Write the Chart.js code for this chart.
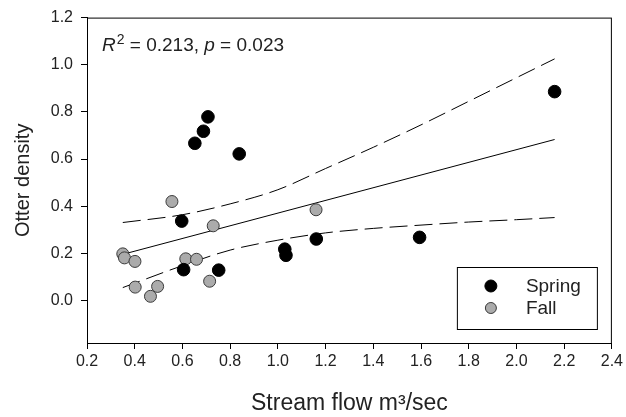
<!DOCTYPE html>
<html>
<head>
<meta charset="utf-8">
<script src="https://cdn.jsdelivr.net/npm/chart.js@4.4.1/dist/chart.umd.min.js"></script>
<style>
    html, body { margin: 0; padding: 0; background: #fff; }
</style>
</head>
<body>
<canvas id="otterChart" width="626" height="417"></canvas>
<script>
var springFlow = [0.597, 0.605, 0.652, 0.688, 0.707, 0.752, 0.838, 1.029, 1.034, 1.161, 1.594, 2.16];
var springDensity = [0.337, 0.131, 0.667, 0.718, 0.779, 0.129, 0.622, 0.218, 0.192, 0.261, 0.268, 0.886];
var fallFlow = [0.35, 0.357, 0.401, 0.402, 0.466, 0.496, 0.556, 0.614, 0.659, 0.714, 0.729, 1.16];
var fallDensity = [0.198, 0.181, 0.166, 0.057, 0.018, 0.06, 0.42, 0.177, 0.175, 0.082, 0.317, 0.385];

// fitted line and 95% confidence band
var fitFlow = [0.35, 2.16];
var fitDensity = [0.196, 0.683];
var bandFlow = [0.35, 0.6, 0.8, 1.0, 1.2, 1.4, 1.6, 1.8, 2.0, 2.16];
var upperBand = [0.331, 0.364, 0.41, 0.47, 0.56, 0.65, 0.745, 0.845, 0.945, 1.025];
var lowerBand = [0.055, 0.148, 0.214, 0.256, 0.287, 0.306, 0.32, 0.333, 0.343, 0.352];

var xTicks = [0.2, 0.4, 0.6, 0.8, 1.0, 1.2, 1.4, 1.6, 1.8, 2.0, 2.2, 2.4];
var yTicks = [0.0, 0.2, 0.4, 0.6, 0.8, 1.0, 1.2];

var fontFamily = "'Liberation Sans', Arial, sans-serif";

function pairs(xs, ys) {
    var out = [];
    for (var i = 0; i < xs.length; i++) out.push({ x: xs[i], y: ys[i] });
    return out;
}

function lineSet(xs, ys, dash) {
    return {
        label: "",
        data: pairs(xs, ys),
        showLine: true,
        pointRadius: 0,
        borderColor: "#000",
        borderWidth: 1,
        borderDash: dash,
        cubicInterpolationMode: "monotone",
        fill: false,
        inLegend: false
    };
}

var extras = {
    id: "extras",
    afterDatasetsDraw: function (chart) {
        var ctx = chart.ctx, a = chart.chartArea;
        ctx.save();

        // frame on top and right
        ctx.strokeStyle = "#000";
        ctx.lineWidth = 1;
        ctx.strokeRect(a.left + 0.5, a.top + 0.5, a.right - a.left - 1, a.bottom - a.top);

        // statistics note
        var x = a.left + 15, y = a.top + 33;
        ctx.fillStyle = "#222";
        ctx.textBaseline = "alphabetic";
        ctx.textAlign = "left";
        var parts = [
            ["italic 19px " + fontFamily, "R", 0],
            ["14px " + fontFamily, "2", -7],
            ["19px " + fontFamily, " = 0.213, ", 0],
            ["italic 19px " + fontFamily, "p", 0],
            ["19px " + fontFamily, " = 0.023", 0]
        ];
        parts.forEach(function (p) {
            ctx.font = p[0];
            ctx.fillText(p[1], x, y + p[2]);
            x += ctx.measureText(p[1]).width + (p[1] === "R" ? 1 : 0);
        });

        // legend box
        var bw = 140, bh = 62;
        var bx = a.right - 15 - bw, by = a.bottom - 14 - bh;
        ctx.fillStyle = "#fff";
        ctx.fillRect(bx, by, bw, bh);
        ctx.strokeRect(bx + 0.5, by + 0.5, bw, bh);
        ctx.font = "19px " + fontFamily;
        ctx.textBaseline = "middle";
        var row = 0;
        chart.data.datasets.forEach(function (ds) {
            if (ds.inLegend === false) return;
            var my = by + 19 + row * 22;
            ctx.beginPath();
            ctx.arc(bx + 34, my, row === 0 ? 6 : 5.5, 0, Math.PI * 2);
            ctx.fillStyle = ds.backgroundColor;
            ctx.fill();
            ctx.strokeStyle = ds.borderColor;
            ctx.stroke();
            ctx.fillStyle = "#222";
            ctx.fillText(ds.label, bx + 69, my + 1);
            row++;
        });
        ctx.restore();
    }
};

new Chart(document.getElementById("otterChart"), {
    type: "scatter",
    data: {
        datasets: [{
            label: "Spring",
            data: pairs(springFlow, springDensity),
            backgroundColor: "#000",
            borderColor: "#000",
            borderWidth: 1,
            pointRadius: 6.3,
            order: 0
        }, {
            label: "Fall",
            data: pairs(fallFlow, fallDensity),
            backgroundColor: "#ababab",
            borderColor: "#3a3a3a",
            borderWidth: 1,
            pointRadius: 6,
            order: 1
        },
            Object.assign(lineSet(fitFlow, fitDensity, []), { order: 2 }),
            Object.assign(lineSet(bandFlow, upperBand, [18, 7]), { order: 3 }),
            Object.assign(lineSet(bandFlow, lowerBand, [18, 7]), { order: 4 })
        ]
    },
    options: {
        responsive: false,
        animation: false,
        devicePixelRatio: 1,
        layout: { padding: { top: 17, right: 11, left: 0, bottom: 0 } },
        plugins: {
            legend: { display: false },
            tooltip: { enabled: false }
        },
        scales: {
            x: {
                type: "linear",
                min: 0.2,
                max: 2.4,
                afterBuildTicks: function (s) { s.ticks = xTicks.map(function (v) { return { value: v }; }); },
                afterFit: function (s) { s.height = 74; },
                grid: { display: true, drawOnChartArea: false, drawTicks: true, tickLength: 6, color: "#000" },
                border: { display: true, color: "#000", width: 1 },
                ticks: {
                    color: "#222",
                    autoSkip: false,
                    maxRotation: 0,
                    padding: 3,
                    font: { family: fontFamily, size: 16 },
                    callback: function (v) { return Number(v).toFixed(1); }
                },
                title: {
                    display: true,
                    text: "Stream flow m³/sec",
                    color: "#222",
                    font: { family: fontFamily, size: 23 },
                    padding: { top: 0, bottom: 0 }
                }
            },
            y: {
                type: "linear",
                min: -0.18,
                max: 1.2,
                afterBuildTicks: function (s) { s.ticks = yTicks.map(function (v) { return { value: v }; }); },
                afterFit: function (s) { s.width = 87; },
                grid: { display: true, drawOnChartArea: false, drawTicks: true, tickLength: 6, color: "#000" },
                border: { display: true, color: "#000", width: 1 },
                ticks: {
                    color: "#222",
                    padding: 8,
                    font: { family: fontFamily, size: 16 },
                    callback: function (v) { return Number(v).toFixed(1); }
                },
                title: {
                    display: true,
                    text: "Otter density",
                    color: "#222",
                    font: { family: fontFamily, size: 20 },
                    padding: { top: 11, bottom: 0 }
                }
            }
        }
    },
    plugins: [extras]
});
</script>
</body>
</html>
